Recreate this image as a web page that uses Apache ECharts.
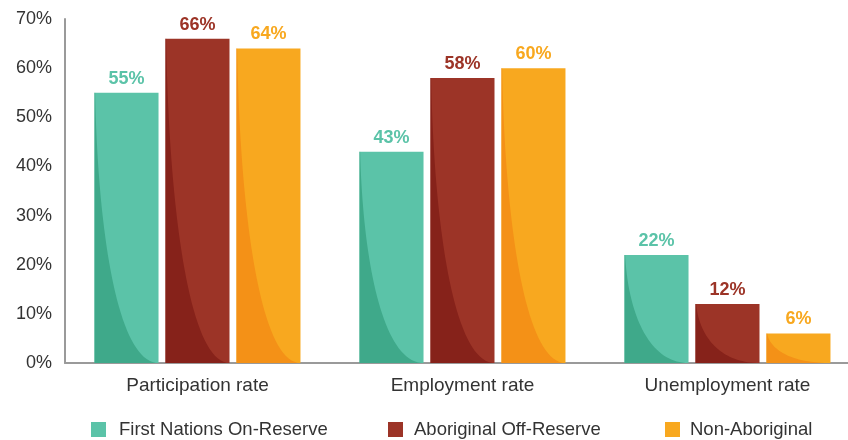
<!DOCTYPE html>
<html>
<head>
<meta charset="utf-8">
<script src="https://cdn.jsdelivr.net/npm/echarts@6/dist/echarts.min.js"></script>
<style>
html,body{margin:0;padding:0;background:#fff;overflow:hidden;width:848px;height:440px;}
#chart{width:860px;height:440px;}
</style>
</head>
<body>
<div id="chart"></div>
<script>
const categories = ['Participation rate', 'Employment rate', 'Unemployment rate'];
const seriesNames = ['First Nations On-Reserve', 'Aboriginal Off-Reserve', 'Non-Aboriginal'];
const firstNations = [55, 43, 22];
const offReserve = [66, 58, 12];
const nonAboriginal = [64, 60, 6];
const seriesValues = [firstNations, offReserve, nonAboriginal];

const lightColors = ['#5BC3A8', '#9C3427', '#F8A81F'];
const darkColors = ['#3FA98A', '#86221A', '#F49117'];
const BAR_W = 64, BAR_GAP = 7;
const FONT = '"Liberation Sans", Arial, sans-serif';

function bez(p0, p1, p2, p3, s) {
  const u = 1 - s;
  return u*u*u*p0 + 3*u*u*s*p1 + 3*u*s*s*p2 + s*s*s*p3;
}

function shadeSeries(idx) {
  return {
    type: 'custom',
    name: seriesNames[idx] + ' shade',
    silent: true,
    z: 3,
    tooltip: {show: false},
    data: seriesValues[idx].map((v, i) => [i, v]),
    renderItem: function (params, api) {
      const cat = api.value(0), v = api.value(1);
      const topPt = api.coord([cat, v]);
      const basePt = api.coord([cat, 0]);
      const cx = topPt[0] + (idx - 1) * (BAR_W + BAR_GAP);
      const l = cx - BAR_W / 2, w = BAR_W;
      const t = topPt[1], b = basePt[1], h = b - t;
      const pts = [];
      const N = 40;
      for (let k = 0; k <= N; k++) {
        const s = k / N;
        const x = bez(0.01, 0.05, 0.35, 1, s);
        const y = bez(0, 0.5, 1, 1, s);
        pts.push([l + x * w, t + y * h]);
      }
      pts.push([l, b]);
      pts.push([l, t]);
      return {type: 'polygon', shape: {points: pts}, style: {fill: darkColors[idx]}};
    }
  };
}

const barSeries = seriesNames.map((name, idx) => ({
  type: 'bar',
  name: name,
  data: seriesValues[idx],
  barWidth: BAR_W,
  barGap: (BAR_GAP / BAR_W * 100).toFixed(1) + '%',
  itemStyle: {color: lightColors[idx]},
  z: 2,
  label: {
    show: true,
    position: 'top',
    distance: 5,
    formatter: '{c}%',
    color: lightColors[idx],
    fontFamily: FONT,
    fontWeight: 'bold',
    fontSize: 18
  }
}));

const legendLefts = [91, 388, 665];
const legendPads = [8, 6, 5];
const legends = seriesNames.map((name, idx) => ({
  data: [name],
  left: legendLefts[idx],
  top: 420,
  padding: 0,
  icon: 'rect',
  itemWidth: 15,
  itemHeight: 15,
  selectedMode: false,
  textStyle: {fontFamily: FONT, fontSize: 18.5, color: '#333', padding: [0, 0, 0, legendPads[idx]]}
}));

const chart = echarts.init(document.getElementById('chart'), null, {renderer: 'canvas'});
chart.setOption({
  animation: false,
  backgroundColor: '#fff',
  legend: legends,
  grid: {left: 65, top: 19, right: 0, bottom: 77, containLabel: false},
  xAxis: {
    type: 'category',
    data: categories,
    axisLine: {lineStyle: {color: '#9a9a9a', width: 2}},
    axisTick: {show: false},
    axisLabel: {fontFamily: FONT, fontSize: 19, color: '#333', margin: 13}
  },
  yAxis: {
    type: 'value',
    min: 0,
    max: 70,
    interval: 10,
    axisLine: {show: true, lineStyle: {color: '#9a9a9a', width: 2}},
    axisTick: {show: false},
    splitLine: {show: false},
    axisLabel: {formatter: '{value}%', fontFamily: FONT, fontSize: 18, color: '#333', margin: 13}
  },
  series: barSeries.concat([0, 1, 2].map(shadeSeries))
});
</script>
</body>
</html>
